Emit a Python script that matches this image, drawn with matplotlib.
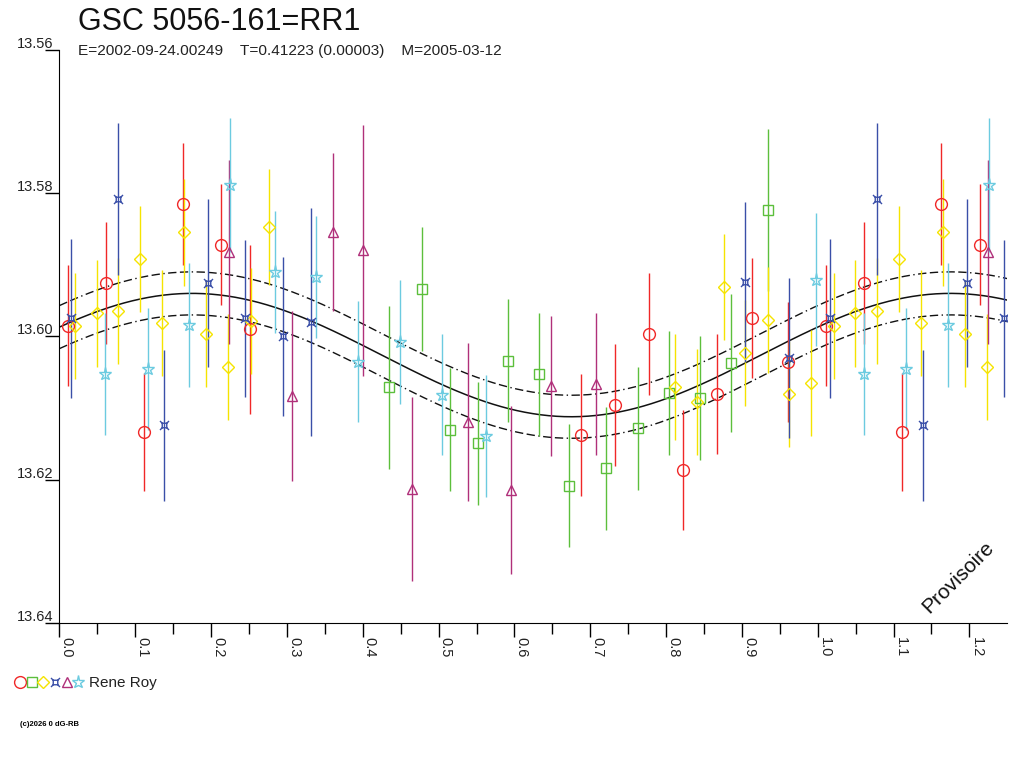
import numpy as np
import matplotlib
matplotlib.use('Agg')
import matplotlib.pyplot as plt
import matplotlib.transforms as mtransforms
from matplotlib.path import Path
from matplotlib.legend_handler import HandlerTuple
from matplotlib.lines import Line2D

plt.rcParams['font.family'] = ['Liberation Sans', 'DejaVu Sans']

# observations (phase, magnitude, error) per symbol
red_ph  = [0.0108, 0.0609, 0.1115, 0.1629, 0.2135, 0.2517, 0.6880, 0.7332, 0.7773, 0.8226, 0.8674, 0.9127, 0.9611]
red_mag = [13.5985, 13.5925, 13.6133, 13.5815, 13.5872, 13.5990, 13.6138, 13.6096, 13.5996, 13.6186, 13.6080, 13.5974, 13.6036]
red_err = [0.0084, 0.0085, 0.0082, 0.0085, 0.0084, 0.0118, 0.0085, 0.0085, 0.0085, 0.0084, 0.0084, 0.0084, 0.0084]

green_ph  = [0.4347, 0.4786, 0.5156, 0.5517, 0.5917, 0.6319, 0.6722, 0.7201, 0.7628, 0.8032, 0.8441, 0.8850, 0.9338]
green_mag = [13.6071, 13.5934, 13.6130, 13.6149, 13.6034, 13.6053, 13.6208, 13.6184, 13.6128, 13.6079, 13.6086, 13.6037, 13.5824]
green_err = [0.0114, 0.0086, 0.0086, 0.0086, 0.0086, 0.0086, 0.0086, 0.0086, 0.0086, 0.0086, 0.0086, 0.0096, 0.0113]

yellow_ph  = [0.0208, 0.0491, 0.0776, 0.1066, 0.1356, 0.1646, 0.1937, 0.2227, 0.2520, 0.2764,
              0.8120, 0.8401, 0.8763, 0.9047, 0.9338, 0.9620, 0.9910]
yellow_mag = [13.5986, 13.5968, 13.5965, 13.5892, 13.5981, 13.5855, 13.5996, 13.6043, 13.5978, 13.5847,
              13.6071, 13.6091, 13.5931, 13.6023, 13.5977, 13.6080, 13.6065]
yellow_err = [0.0074] * 9 + [0.0081] + [0.0074] * 7

blue_ph  = [0.0156, 0.0776, 0.1383, 0.1963, 0.2451, 0.2953, 0.3314, 0.9047, 0.9624]
blue_mag = [13.5975, 13.5808, 13.6124, 13.5925, 13.5975, 13.6000, 13.5980, 13.5924, 13.6030]
blue_err = [0.0111, 0.0106, 0.0105, 0.0117, 0.0110, 0.0111, 0.0159, 0.0111, 0.0111]

purple_ph  = [0.2240, 0.3071, 0.3612, 0.4008, 0.4654, 0.5393, 0.5960, 0.6488, 0.7069]
purple_mag = [13.5882, 13.6083, 13.5854, 13.5880, 13.6213, 13.6119, 13.6214, 13.6069, 13.6067]
purple_err = [0.0128, 0.0118, 0.0110, 0.0175, 0.0128, 0.0110, 0.0117, 0.0098, 0.0099]

cyan_ph  = [0.0604, 0.1164, 0.1712, 0.2253, 0.2836, 0.3388, 0.3942, 0.4496, 0.5050, 0.5631, 0.9980]
cyan_mag = [13.6052, 13.6046, 13.5984, 13.5789, 13.5910, 13.5917, 13.6035, 13.6008, 13.6081, 13.6139, 13.5921]
cyan_err = [0.0085, 0.0085, 0.0086, 0.0093, 0.0085, 0.0085, 0.0085, 0.0086, 0.0085, 0.0085, 0.0093]

# fitted light curve
mag_mean = 13.6026
amplitude = 0.0086
phase_min = 0.675
band = 0.003

title = "GSC 5056-161=RR1"
subtitle = "E=2002-09-24.00249    T=0.41223 (0.00003)    M=2005-03-12"
observer = "Rene Roy"
y_ticks = [13.56, 13.58, 13.60, 13.62, 13.64]
x_ticks = np.round(np.arange(0, 1.21, 0.1), 1)

# box with corner whiskers for the blue symbol
box_path = Path(
    [(-.5, -.5), (.5, -.5), (.5, .5), (-.5, .5), (-.5, -.5),
     (-1, -1), (-.5, -.5), (1, -1), (.5, -.5), (1, 1), (.5, .5), (-1, 1), (-.5, .5)],
    [Path.MOVETO, Path.LINETO, Path.LINETO, Path.LINETO, Path.CLOSEPOLY,
     Path.MOVETO, Path.LINETO, Path.MOVETO, Path.LINETO, Path.MOVETO, Path.LINETO, Path.MOVETO, Path.LINETO])

series = [
    (red_ph, red_mag, red_err, '#f02828', 'o', 8.5),
    (green_ph, green_mag, green_err, '#5cbf3c', 's', 6.5),
    (yellow_ph, yellow_mag, yellow_err, '#f5e400', 'D', 6.0),
    (blue_ph, blue_mag, blue_err, '#3a4fa8', box_path, 6.5),
    (purple_ph, purple_mag, purple_err, '#b0307a', '^', 7.5),
    (cyan_ph, cyan_mag, cyan_err, '#6ccbe0', '*', 9.5),
]

fig = plt.figure(figsize=(10.24, 7.68), dpi=100)
ax = fig.add_axes([0.0581, 0.1884, 0.9256, 0.7471])

ph = np.linspace(0, 1.25, 600)
curve = mag_mean + amplitude * np.cos(2 * np.pi * (ph - phase_min))
ax.plot(ph, curve, color='#111111', lw=1.1, zorder=1)
ax.plot(ph, curve - band, color='#111111', lw=1, ls=(0, (6, 2.5, 6, 2.5, 1, 2.5)), zorder=1)
ax.plot(ph, curve + band, color='#111111', lw=1, ls=(0, (6, 2.5, 6, 2.5, 1, 2.5)), zorder=1)

handles = []
for p, m, e, c, mk, ms in series:
    p = np.array(p); m = np.array(m); e = np.array(e)
    rep = p < 0.25
    p2 = np.concatenate([p, p[rep] + 1])
    m2 = np.concatenate([m, m[rep]])
    e2 = np.concatenate([e, e[rep]])
    ax.errorbar(p2, m2, yerr=e2, fmt='none', ecolor=c, elinewidth=1, capsize=0, zorder=2)
    ax.plot(p2, m2, ls='none', marker=mk, ms=ms, mfc='none', mec=c, mew=1, zorder=3)
    handles.append(Line2D([], [], ls='none', marker=mk, ms=ms, mfc='none', mec=c, mew=1))

ax.set_xlim(0, 1.25)
ax.set_ylim(13.64, 13.56)
for s in ['top', 'right']:
    ax.spines[s].set_visible(False)

ax.set_xticks(x_ticks)
ax.set_xticklabels(['%.1f' % v for v in x_ticks], rotation=270, ha='left', va='top',
                   fontsize=10.5, color='#222222')
ax.set_xticks(np.arange(0.05, 1.25, 0.1), minor=True)
ax.tick_params(axis='x', which='major', direction='out', length=10, width=1, pad=0)
ax.tick_params(axis='x', which='minor', direction='out', length=8, width=1)
ax.set_yticks(y_ticks)
ax.tick_params(axis='y', direction='out', length=10, width=1, labelleft=False)

ytrans = mtransforms.offset_copy(
    mtransforms.blended_transform_factory(ax.transAxes, ax.transData), fig, x=-6, y=2, units='dots')
for v in y_ticks:
    ax.text(0, v, '%.2f' % v, transform=ytrans, ha='right', va='baseline',
            fontsize=10.5, color='#222222', clip_on=False)

fig.text(78 / 1024, 1 - 29.5 / 768, title, fontsize=22, va='baseline', color='#111111')
fig.text(78 / 1024, 1 - 54.5 / 768, subtitle, fontsize=11.1, va='baseline', color='#222222')

ax.text(0.948, 0.081, 'Provisoire', transform=ax.transAxes, rotation=45, fontsize=15,
        ha='center', va='center', color='#111111')

fig.legend(handles=[tuple(handles)], labels=[observer],
           handler_map={tuple: HandlerTuple(ndivide=None, pad=0.0)},
           loc='center left', bbox_to_anchor=(14 / 1024, 1 - 683 / 768),
           frameon=False, fontsize=11, handlelength=4.6, handletextpad=0.3,
           borderpad=0, borderaxespad=0, labelcolor='#222222')

fig.text(20 / 1024, 1 - 725 / 768, '(c)2026 0 dG-RB', fontsize=5.5, weight='bold', va='center')

fig.savefig('out.png', dpi=100)
